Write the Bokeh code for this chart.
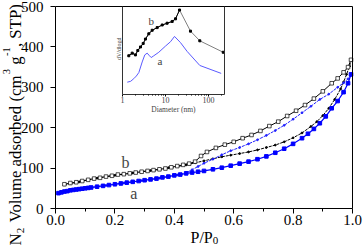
import math
from bokeh.plotting import figure
from bokeh.models import (Range1d, LogScale, LinearScale, LinearAxis, FixedTicker,
                          PrintfTickFormatter, Label)
from bokeh.embed import file_html
from bokeh.resources import INLINE

# ---------------- data ----------------
x_ticks = [0.0, 0.2, 0.4, 0.6, 0.8, 1.0]
x_minor = [0.1, 0.3, 0.5, 0.7, 0.9]
y_ticks = [0, 100, 200, 300, 400, 500]

# sample b, desorption branch (open squares)
b_des_x = [0.03, 0.05, 0.07, 0.09, 0.11, 0.13, 0.15, 0.17, 0.19, 0.21, 0.23, 0.25, 0.27, 0.29,
           0.31, 0.33, 0.35, 0.37, 0.39, 0.41, 0.43, 0.45, 0.47, 0.49, 0.51, 0.54, 0.57, 0.60,
           0.63, 0.66, 0.69, 0.72, 0.75, 0.78, 0.81, 0.84, 0.87, 0.90, 0.93, 0.95, 0.97, 0.985, 0.995]
b_des_y = [60, 63, 65, 68, 71, 74, 76, 79, 81, 84, 85, 87, 89, 91,
           93, 95, 97, 99, 102, 105, 108, 111, 116, 130, 140, 150, 158, 165,
           174, 182, 192, 204, 215, 229, 242, 256, 272, 290, 310, 322, 337, 350, 368]

# sample b, adsorption branch (dashed, small dots)
b_ads_x = [0.03, 0.05, 0.08, 0.11, 0.14, 0.17, 0.20, 0.23, 0.26, 0.29, 0.32, 0.35, 0.38, 0.41,
           0.44, 0.47, 0.50, 0.53, 0.56, 0.59, 0.62, 0.65, 0.68, 0.71, 0.74, 0.77, 0.80, 0.83,
           0.86, 0.88, 0.90, 0.92, 0.94, 0.96, 0.97, 0.98, 0.99, 0.995]
b_ads_y = [59, 62, 66, 71, 75, 79, 82, 85, 88, 91, 94, 97, 101, 104,
           108, 113, 118, 123, 128, 132, 136, 140, 145, 151, 157, 165, 175, 187,
           203, 215, 230, 248, 270, 296, 313, 332, 352, 366]

# sample a, adsorption branch (filled squares)
a_ads_x = [0.01, 0.02, 0.03, 0.04, 0.05, 0.06, 0.07, 0.08, 0.09, 0.10, 0.11, 0.12, 0.14, 0.16,
           0.18, 0.20, 0.22, 0.24, 0.26, 0.28, 0.30, 0.32, 0.34, 0.36, 0.38, 0.40, 0.42, 0.44,
           0.46, 0.48, 0.50, 0.53, 0.56, 0.59, 0.62, 0.65, 0.68, 0.71, 0.74, 0.77, 0.80, 0.83,
           0.85, 0.87, 0.89, 0.91, 0.93, 0.95, 0.97, 0.985, 0.995]
a_ads_y = [38, 40, 42, 43, 45, 46, 47, 48, 49, 50, 51, 52, 54, 56,
           58, 60, 62, 64, 66, 68, 70, 72, 74, 77, 79, 82, 84, 87,
           89, 91, 93, 97, 101, 106, 111, 116, 122, 129, 138, 148, 160, 174,
           185, 197, 211, 228, 248, 266, 288, 310, 332]

# sample a, desorption branch (dash-dot)
a_des_x = [0.02, 0.05, 0.08, 0.11, 0.14, 0.17, 0.20, 0.23, 0.26, 0.29, 0.32, 0.35, 0.38, 0.41,
           0.44, 0.46, 0.48, 0.50, 0.53, 0.56, 0.59, 0.62, 0.65, 0.68, 0.71, 0.74, 0.77, 0.80,
           0.83, 0.86, 0.89, 0.92, 0.95, 0.97, 0.985, 0.995]
a_des_y = [40, 45, 48, 51, 54, 57, 60, 63, 66, 69, 72, 75, 79, 83,
           88, 96, 104, 112, 122, 133, 143, 151, 160, 170, 181, 193, 206, 221,
           237, 253, 270, 283, 300, 311, 321, 330]

# inset: pore size distribution (dV/dlogd, arbitrary units)
inset_ticks = [1, 10, 100]
inset_minor = [2, 3, 4, 5, 6, 7, 8, 9, 20, 30, 40, 50, 60, 70, 80, 90, 200]
ib_d = [1.40, 1.68, 2.00, 2.27, 2.62, 3.03, 3.42, 4.09, 4.90, 6.40, 8.40, 10.9, 14.3, 17.1,
        21.2, 38.1, 62.8, 220]
ib_v = [44, 47, 45, 50, 54, 58, 63, 69, 73, 76, 79, 81, 83, 86,
        96, 72, 61, 48]
ia_d = [1.29, 1.55, 1.83, 2.10, 2.40, 2.87, 3.30, 3.75, 4.24, 4.65, 5.34, 6.98, 9.99, 13.1,
        16.2, 22.3, 31.8, 62.8, 197]
ia_v = [14, 15, 18, 21, 25, 37, 45, 47, 44, 42, 44, 48, 55, 60,
        66, 59, 49, 33, 24]

# ---------------- layout (canvas pixels) ----------------
W, H = 363, 247
PL, PR, PT, PB = 55, 352, 6, 208          # main plot box
SERIF = "Liberation Serif"
BLUE = "#0000ff"

# the whole canvas is the frame; data ranges are chosen so the box sits at PL..PR / PT..PB
xu = 1.0 / (PR - PL)
yu = 500.0 / (PB - PT)
p = figure(width=W, height=H, output_backend="svg", toolbar_location=None,
           x_range=Range1d(-PL * xu, (W - PL) * xu),
           y_range=Range1d(-(H - PB) * yu, 500 + PT * yu),
           x_axis_location=None, y_axis_location=None,
           min_border=0, min_border_left=0, min_border_right=0,
           min_border_top=0, min_border_bottom=0)
p.grid.visible = False
p.outline_line_color = None
p.background_fill_color = "white"
p.border_fill_color = "white"


def style_axis(ax):
    ax.axis_line_color = "black"
    ax.axis_line_width = 1
    ax.major_tick_out = 5
    ax.major_tick_in = 0
    ax.minor_tick_out = 3
    ax.minor_tick_in = 0
    ax.major_label_text_font = SERIF
    ax.major_label_text_font_size = "15px"
    ax.major_label_text_color = "black"
    ax.major_tick_line_color = "black"
    ax.minor_tick_line_color = "black"
    return ax


xax = style_axis(LinearAxis(fixed_location=0, bounds=(0, 1),
                            ticker=FixedTicker(ticks=x_ticks, minor_ticks=x_minor),
                            formatter=PrintfTickFormatter(format="%.1f"),
                            major_label_standoff=1))
p.add_layout(xax, "below")
yax = style_axis(LinearAxis(fixed_location=0, bounds=(0, 500),
                            ticker=FixedTicker(ticks=y_ticks, minor_ticks=[]),
                            major_label_standoff=7))
p.add_layout(yax, "left")
top = LinearAxis(fixed_location=500, bounds=(0, 1), ticker=FixedTicker(ticks=[]),
                 major_label_text_font_size="0px", axis_line_color="black")
p.add_layout(top, "above")
right = LinearAxis(fixed_location=1, bounds=(0, 500), ticker=FixedTicker(ticks=[]),
                   major_label_text_font_size="0px", axis_line_color="black")
p.add_layout(right, "right")

# main curves
p.line(b_ads_x, b_ads_y, line_color="black", line_width=1, line_dash="3 1")
p.scatter(b_ads_x, b_ads_y, marker="circle", size=1.8, color="black")
p.line(a_des_x, a_des_y, line_color="#2020ff", line_width=1, line_dash="3 1")
p.scatter(a_des_x, a_des_y, marker="circle", size=1.8, color="#2020ff")
p.line(b_des_x, b_des_y, line_color="black", line_width=1)
p.scatter(b_des_x, b_des_y, marker="square", size=3.6, fill_color="white", line_color="black",
          line_width=0.7)
p.line(a_ads_x, a_ads_y, line_color=BLUE, line_width=1.2)
p.scatter(a_ads_x, a_ads_y, marker="square", size=3.6, color=BLUE)

p.add_layout(Label(x=0.236, y=115, text="b", text_font=SERIF, text_font_size="16px",
                   text_align="center", text_baseline="middle"))
p.add_layout(Label(x=0.264, y=36, text="a", text_font=SERIF, text_font_size="16px",
                   text_align="center", text_baseline="middle"))

# ---------------- inset (own log/linear scales inside the same frame) ----------------
inset_x1 = 122.0     # canvas x of d = 1
decade_px = 43.0
inset_y0 = 94.0      # canvas y of the inset baseline (value 0); value 100 at PT
inset_dmax = 235
vu = 100.0 / (inset_y0 - PT)
p.extra_x_ranges = {"inset": Range1d(10 ** (-inset_x1 / decade_px),
                                     10 ** ((W - inset_x1) / decade_px))}
p.extra_x_scales = {"inset": LogScale()}
p.extra_y_ranges = {"inset": Range1d(-(H - inset_y0) * vu, 100 + PT * vu)}
p.extra_y_scales = {"inset": LinearScale()}
IR = dict(x_range_name="inset", y_range_name="inset")

ix = LinearAxis(**IR, fixed_location=0, bounds=(1, inset_dmax),
                ticker=FixedTicker(ticks=inset_ticks, minor_ticks=inset_minor),
                formatter=PrintfTickFormatter(format="%d"),
                major_label_text_font=SERIF, major_label_text_font_size="8px",
                major_label_standoff=0, major_tick_out=2, major_tick_in=0,
                minor_tick_out=1, minor_tick_in=0, axis_line_color="#333333")
p.add_layout(ix, "below")
iyl = LinearAxis(**IR, fixed_location=1, bounds=(0, 100), ticker=FixedTicker(ticks=[]),
                 major_label_text_font_size="0px", axis_line_color="#333333")
p.add_layout(iyl, "left")
iyr = LinearAxis(**IR, fixed_location=inset_dmax, bounds=(0, 100), ticker=FixedTicker(ticks=[]),
                 major_label_text_font_size="0px", axis_line_color="#333333")
p.add_layout(iyr, "right")

peak = ib_v.index(max(ib_v)) + 1
p.line(ib_d, ib_v, line_color="#808080", line_width=1, **IR)
p.line(ib_d[:peak], ib_v[:peak], line_color="black", line_width=1, **IR)
p.scatter(ib_d, ib_v, marker="square", size=2, color="black", **IR)
p.line(ia_d, ia_v, line_color="#5a5aff", line_width=1, **IR)

p.add_layout(Label(x=4.65, y=84, text="b", text_font=SERIF, text_font_size="11px",
                   text_align="center", text_baseline="middle", **IR))
p.add_layout(Label(x=7.4, y=38, text="a", text_font=SERIF, text_font_size="11px",
                   text_align="center", text_baseline="middle", **IR))
p.add_layout(Label(x=15.3, y=-17, text="Diameter (nm)", text_font=SERIF, text_font_size="7.5px",
                   text_align="center", text_baseline="middle", **IR))
p.add_layout(Label(x=0.81, y=52, text="dV/dlogd", text_font=SERIF, text_font_size="6px",
                   angle=math.pi / 2, text_align="center", text_baseline="middle", **IR))


# ---------------- axis titles (pieces centred on their anchors; frame == canvas) ----------------
def screen_label(text, cx, cy, size, angle=0.0):
    return Label(x=cx, y=H - cy, x_units="screen", y_units="screen", text=text,
                 text_font=SERIF, text_font_size=size, angle=angle,
                 text_align="center", text_baseline="middle", text_color="black")


R = math.pi / 2
ytitle = [("N", 14.5, 238.9, "16.8px"), ("2", 20.0, 230.1, "11px"),
          ("Volume adsorbed (cm", 14.5, 148.5, "16.8px"), ("3", 6.0, 71.1, "10.5px"),
          ("g", 14.5, 60.0, "16.8px"), ("-1", 6.0, 51.2, "10.5px"),
          (", STP)", 14.5, 25.1, "16.8px")]
for t, cx, cy, s in ytitle:
    p.add_layout(screen_label(t, cx, cy, s, R))

p.add_layout(screen_label("P/P", 201.1, 237.0, "16px"))
p.add_layout(screen_label("0", 215.0, 239.5, "11px"))

open("out.html", "w").write(file_html(p, INLINE))
